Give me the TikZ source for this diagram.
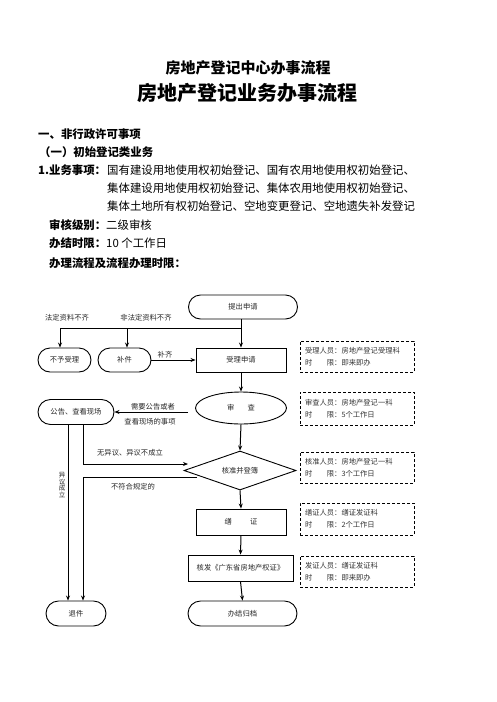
\documentclass[tikz,border=0pt]{standalone}
\usepackage{fontspec}
\setmainfont{Noto Sans CJK SC}
\usetikzlibrary{shapes.geometric,arrows.meta}
\begin{document}
\begin{tikzpicture}[x=1pt,y=-1pt]
\tikzset{
 flow/.style={font=\fontsize{7.3}{9}\selectfont, text=black!85},
 stadium/.style={draw, line width=0.9pt, rounded corners=12pt, minimum height=24pt, inner sep=0pt, flow},
 boxr/.style={draw, line width=0.9pt, minimum height=25pt, inner sep=0pt, flow},
 arr/.style={line width=1pt, -{Stealth[length=5pt,width=4pt]}},
 ln/.style={line width=1pt},
 lbl/.style={flow, inner sep=0pt},
 note/.style={draw, dash pattern=on 3pt off 2pt, line width=0.9pt, minimum width=114pt, minimum height=32pt, text width=104pt, inner xsep=5pt, inner ysep=2pt, align=left, font=\fontsize{7.3}{12}\selectfont, text=black!80},
 hd/.style={anchor=west, inner sep=0pt, font=\fontsize{11.4}{13}\selectfont},
}
\useasboundingbox (0,0) rectangle (496,702);
% titles
\node[inner sep=0pt, font=\bfseries\fontsize{15}{17}\selectfont] (t1) at (248,68) {房地产登记中心办事流程};
\node[inner sep=0pt, font=\bfseries\fontsize{20}{22}\selectfont] (t2) at (247,93) {房地产登记业务办事流程};
% header text
\node[hd, font=\bfseries\fontsize{11.4}{13}\selectfont] (h1) at (38,134) {一、非行政许可事项};
\node[hd, font=\bfseries\fontsize{11.4}{13}\selectfont] (h2) at (39,152) {（一）初始登记类业务};
\node[hd, font=\bfseries\fontsize{11.4}{13}\selectfont] (h3) at (38,170) {1.业务事项：};
\node[hd] (h3a) at (107,170) {国有建设用地使用权初始登记、国有农用地使用权初始登记、};
\node[hd] (h3b) at (107,188) {集体建设用地使用权初始登记、集体农用地使用权初始登记、};
\node[hd] (h3c) at (107,206) {集体土地所有权初始登记、空地变更登记、空地遗失补发登记};
\node[hd] (h4) at (49,225) {{\bfseries 审核级别：}二级审核};
\node[hd] (h5) at (49,243) {{\bfseries 办结时限：}10 个工作日};
\node[hd, font=\bfseries\fontsize{11.4}{13}\selectfont] (h6) at (49,263) {办理流程及流程办理时限：};
% flow nodes
\node[stadium, minimum width=109pt] (tichu) at (243,307) {提出申请};
\node[boxr, minimum width=90pt, minimum height=24pt] (shouli) at (241,360) {受理申请};
\node[stadium, minimum width=53pt] (buyu) at (64.5,360) {不予受理};
\node[stadium, minimum width=53pt] (bujian) at (124.5,360) {补件};
\node[draw, ellipse, line width=0.9pt, minimum width=91pt, minimum height=32pt, inner sep=0pt, flow] (shencha) at (241,408) {审\hspace{1.8em}查};
\node[stadium, minimum width=76pt, minimum height=25pt, rounded corners=12.5pt] (gonggao) at (76,412) {公告、查看现场};
\node[draw, diamond, line width=0.9pt, aspect=2.87, minimum width=112pt, minimum height=39pt, inner sep=0pt, flow] (hezhun) at (240,470.5) {核准并登簿};
\node[boxr, minimum width=90pt, minimum height=26pt] (shanzheng) at (241,522) {缮\hspace{2.5em}证};
\node[boxr, minimum width=105pt, minimum height=26pt] (hefa) at (240.5,568) {核发《广东省房地产权证》};
\node[stadium, minimum width=109pt, minimum height=25pt, rounded corners=12.5pt] (banjie) at (242.5,613.5) {办结归档};
\node[stadium, minimum width=60pt, minimum height=25pt, rounded corners=12.5pt] (tuijian) at (76,613.5) {退件};
% dashed notes
\node[note, minimum height=31pt] (n1) at (357,356.5) {受理人员：房地产登记受理科\\时\hspace{2em}限：即来即办};
\node[note, minimum height=33pt] (n2) at (357,408.5) {审查人员：房地产登记一科\\时\hspace{2em}限：5个工作日};
\node[note, minimum height=31pt] (n3) at (357,467.5) {核准人员：房地产登记一科\\时\hspace{2em}限：3个工作日};
\node[note, minimum height=32pt] (n4) at (357,519) {缮证人员：缮证发证科\\时\hspace{2em}限：2个工作日};
\node[note, minimum height=31pt] (n5) at (357,571.5) {发证人员：缮证发证科\\时\hspace{2em}限：即来即办};
% coordinates
\coordinate (hl) at (60,328);
\coordinate (hm) at (127,328);
\coordinate (hj) at (241,328);
\coordinate (gs) at (188,412);
\coordinate (xl) at (68,0);
\coordinate (xr) at (83,0);
\coordinate (wy) at (188,464);
\coordinate (bf) at (197,477);
% connectors
\draw[arr] (tichu.south -| shouli.north) -- (shouli.north);
\draw[ln] (hl) -- (hj);
\draw[arr] (hl) -- (hl |- buyu.north);
\draw[arr] (hm) -- (hm |- bujian.north);
\draw[arr] (bujian.east) -- (shouli.west);
\draw[arr] (shouli.south) -- (shencha.north);
\draw[arr] (gs) -- (gs -| gonggao.east);
\draw[arr] (shencha.south) -- (hezhun.north);
\draw[arr] (hezhun.south) -- (shanzheng.north);
\draw[arr] (shanzheng.south) -- (hefa.north);
\draw[arr] (hefa.south) -- (banjie.north);
\draw[arr] (gonggao.south -| xl) -- (tuijian.north -| xl);
\draw[arr] (gonggao.south -| xr) |- (wy);
\draw[arr] (bf) -| (tuijian.north -| xr);
% labels
\node[lbl] (l1) at (67,318) {法定资料不齐};
\node[lbl] (l2) at (146,318) {非法定资料不齐};
\node[lbl] (l3) at (165,355) {补齐};
\node[lbl] (l4) at (153,407) {需要公告或者};
\node[lbl] (l5) at (150,422) {查看现场的事项};
\node[lbl] (l6) at (130,453) {无异议、异议不成立};
\node[lbl] (l7) at (133,487) {不符合规定的};
\node[lbl, align=center, font=\fontsize{6.5}{6.6}\selectfont] (l8) at (62,485) {异\\议\\成\\立};
\end{tikzpicture}
\end{document}
